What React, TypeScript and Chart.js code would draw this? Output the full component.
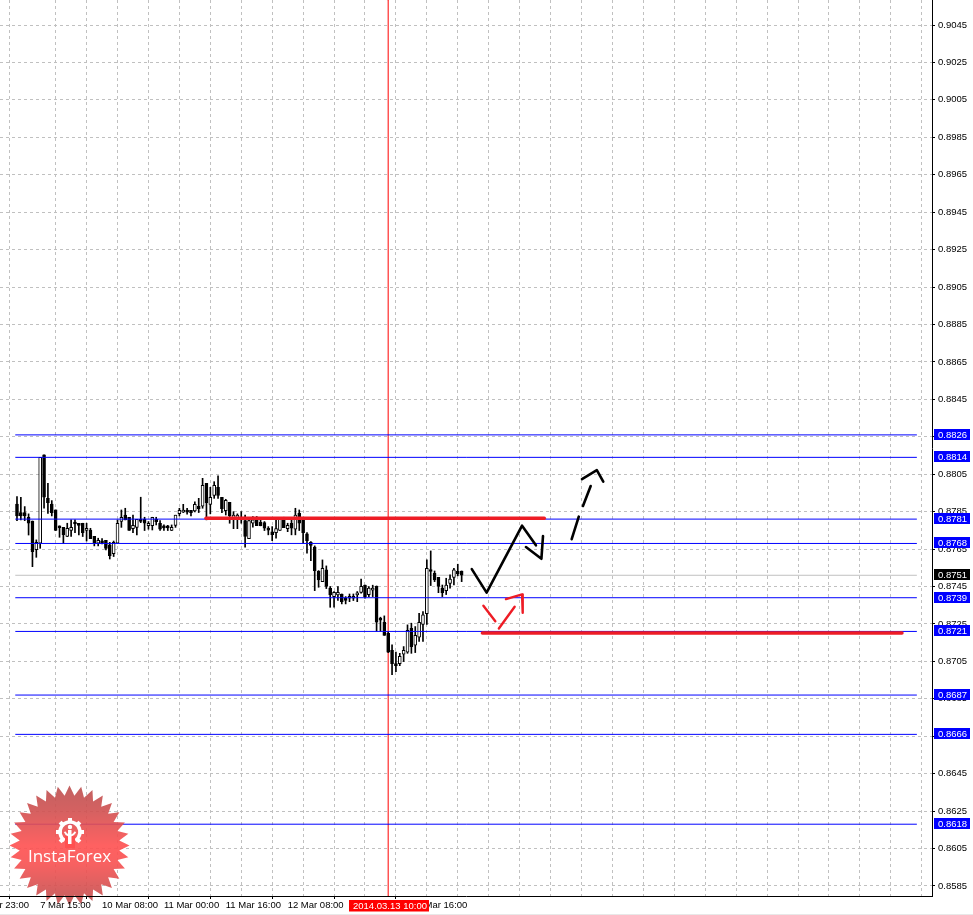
import React, { useEffect, useRef } from "react";
import { Chart, registerables } from "chart.js";

Chart.register(...registerables);

const opens = [0.87891,0.87845,0.87845,0.87820,0.87800,0.87647,0.87681,0.88153,0.87921,0.87891,0.87859,0.87766,0.87766,0.87717,0.87749,0.87788,0.87781,0.87788,0.87749,0.87752,0.87718,0.87681,0.87684,0.87697,0.87672,0.87626,0.87681,0.87798,0.87831,0.87820,0.87759,0.87766,0.87802,0.87809,0.87775,0.87775,0.87809,0.87788,0.87766,0.87766,0.87749,0.87777,0.87839,0.87847,0.87848,0.87857,0.87854,0.87879,0.87879,0.88001,0.87889,0.87937,0.87980,0.87927,0.87855,0.87900,0.87816,0.87816,0.87820,0.87802,0.87706,0.87788,0.87806,0.87793,0.87791,0.87754,0.87742,0.87738,0.87749,0.87820,0.87759,0.87788,0.87756,0.87841,0.87809,0.87731,0.87686,0.87660,0.87531,0.87476,0.87539,0.87441,0.87396,0.87405,0.87409,0.87380,0.87387,0.87387,0.87405,0.87419,0.87457,0.87407,0.87430,0.87451,0.87273,0.87259,0.87200,0.87109,0.87031,0.87038,0.87088,0.87099,0.87227,0.87136,0.87179,0.87248,0.87305,0.87537,0.87521,0.87499,0.87442,0.87428,0.87466,0.87498,0.87531,0.87533];
const highs = [0.87930,0.87927,0.87877,0.87838,0.87800,0.87699,0.88140,0.88153,0.88001,0.87909,0.87859,0.87774,0.87766,0.87788,0.87806,0.87806,0.87788,0.87788,0.87788,0.87761,0.87718,0.87708,0.87706,0.87697,0.87686,0.87693,0.87806,0.87859,0.87868,0.87820,0.87832,0.87809,0.87927,0.87820,0.87797,0.87820,0.87820,0.87802,0.87779,0.87777,0.87779,0.87831,0.87868,0.87889,0.87868,0.87857,0.87902,0.87921,0.88028,0.88001,0.87980,0.88010,0.88041,0.87927,0.87916,0.87900,0.87850,0.87838,0.87850,0.87832,0.87815,0.87824,0.87824,0.87806,0.87797,0.87770,0.87770,0.87806,0.87820,0.87820,0.87788,0.87809,0.87868,0.87859,0.87809,0.87738,0.87690,0.87667,0.87535,0.87592,0.87560,0.87450,0.87423,0.87450,0.87410,0.87396,0.87410,0.87410,0.87423,0.87490,0.87458,0.87450,0.87457,0.87453,0.87286,0.87293,0.87209,0.87138,0.87099,0.87093,0.87129,0.87245,0.87254,0.87236,0.87307,0.87316,0.87592,0.87640,0.87533,0.87499,0.87458,0.87494,0.87512,0.87547,0.87569,0.87533];
const lows = [0.87802,0.87806,0.87802,0.87725,0.87556,0.87606,0.87654,0.87868,0.87841,0.87827,0.87749,0.87713,0.87681,0.87717,0.87717,0.87738,0.87725,0.87717,0.87693,0.87706,0.87667,0.87667,0.87677,0.87645,0.87597,0.87610,0.87681,0.87766,0.87806,0.87749,0.87738,0.87725,0.87791,0.87749,0.87756,0.87752,0.87779,0.87749,0.87749,0.87749,0.87749,0.87766,0.87827,0.87845,0.87836,0.87827,0.87848,0.87845,0.87868,0.87806,0.87838,0.87921,0.87921,0.87845,0.87832,0.87788,0.87759,0.87759,0.87788,0.87660,0.87706,0.87767,0.87775,0.87774,0.87749,0.87726,0.87695,0.87708,0.87749,0.87765,0.87743,0.87726,0.87726,0.87749,0.87681,0.87628,0.87588,0.87428,0.87446,0.87476,0.87439,0.87339,0.87339,0.87375,0.87357,0.87357,0.87369,0.87375,0.87369,0.87414,0.87387,0.87396,0.87396,0.87211,0.87211,0.87189,0.87097,0.86979,0.86995,0.87027,0.87049,0.87093,0.87093,0.87097,0.87156,0.87156,0.87248,0.87455,0.87476,0.87417,0.87396,0.87407,0.87441,0.87458,0.87507,0.87476];
const closes = [0.87827,0.87827,0.87827,0.87788,0.87636,0.87686,0.88140,0.87927,0.87898,0.87845,0.87749,0.87763,0.87727,0.87761,0.87766,0.87784,0.87777,0.87738,0.87761,0.87706,0.87681,0.87697,0.87683,0.87654,0.87615,0.87686,0.87788,0.87820,0.87806,0.87749,0.87777,0.87809,0.87798,0.87788,0.87788,0.87820,0.87797,0.87756,0.87763,0.87763,0.87766,0.87831,0.87857,0.87857,0.87847,0.87845,0.87889,0.87866,0.87991,0.87898,0.87927,0.87991,0.87937,0.87866,0.87911,0.87827,0.87831,0.87831,0.87806,0.87717,0.87802,0.87806,0.87775,0.87775,0.87761,0.87751,0.87727,0.87759,0.87820,0.87765,0.87777,0.87761,0.87831,0.87788,0.87738,0.87695,0.87669,0.87535,0.87485,0.87547,0.87450,0.87405,0.87419,0.87419,0.87369,0.87376,0.87396,0.87396,0.87409,0.87451,0.87396,0.87441,0.87441,0.87259,0.87270,0.87189,0.87099,0.87038,0.87027,0.87077,0.87109,0.87216,0.87129,0.87189,0.87259,0.87298,0.87547,0.87530,0.87485,0.87450,0.87417,0.87457,0.87489,0.87539,0.87517,0.87510];

const priceTicks = [0.9045,0.9025,0.9005,0.8985,0.8965,0.8945,0.8925,0.8905,0.8885,0.8865,0.8845,0.8825,0.8805,0.8785,0.8765,0.8745,0.8725,0.8705,0.8685,0.8665,0.8645,0.8625,0.8605,0.8585];
const levelLines = [0.8826,0.8814,0.8781,0.8768,0.8739,0.8721,0.8687,0.8666,0.8618];
const lastPrice = 0.8751;

const labelBars = [-10,6,22,38,54,70,86,102];
const labelTexts = ["6 Mar 23:00","7 Mar 15:00","10 Mar 08:00","11 Mar 00:00","11 Mar 16:00","12 Mar 08:00","13 Mar 00:00","13 Mar 16:00"];
const crosshairBar = 96;
const crosshairLabel = "2014.03.13 10:00";
const brandName = "InstaForex";

// Hand-drawn annotations as [bar index, price]
const redLevels = [
  [[48.875,0.87814],[136.375,0.87814]],
  [[120.375,0.87202],[228.875,0.87202]],
];
const blackStrokes = [
  [[117.625,0.87543],[121.458,0.87417],[130.625,0.87775],[134.208,0.8767]],
  [[131.625,0.87661],[135.625,0.87598],[136.04,0.8772]],
  [[143.458,0.87703],[145.29,0.87823]],
  [[146.375,0.8788],[148.375,0.87987]],
  [[146.125,0.88024],[149.958,0.88072],[151.625,0.8801]],
];
const redStrokes = [
  [[120.625,0.87347],[123.708,0.87264]],
  [[124.625,0.87226],[128.708,0.87342]],
  [[126.458,0.87383],[130.625,0.87408],[130.79,0.8731]],
];

const X_MIN = -0.375, X_MAX = 232.625;
const Y_MAX = 0.905836, Y_MIN = 0.857964;
const TICK_FONT = { family: "Liberation Sans", size: 9.5 };
const fontStr = "9.5px 'Liberation Sans'";

function toXY(points: number[][]) {
  return points.map(([x, y]) => ({ x, y }));
}

function lineDs(points: number[][], color: string, width: number, order: number) {
  return {
    type: "line" as const,
    data: toXY(points),
    borderColor: color,
    borderWidth: width,
    pointRadius: 0,
    tension: 0,
    order,
    borderCapStyle: "round" as const,
    borderJoinStyle: "round" as const,
  };
}

const overlayPlugin = {
  id: "overlay",
  afterDatasetsDraw(chart: any) {
    const ctx = chart.ctx;
    const cx = 69.5, cy = 845.5, R = 60, r = 50, n = 32;
    ctx.save();
    const g = ctx.createLinearGradient(0, cy - R, 0, cy + R);
    g.addColorStop(0, "#bc5050");
    g.addColorStop(0.2, "#cf5050");
    g.addColorStop(0.5, "#ff5050");
    g.addColorStop(0.65, "#f85050");
    g.addColorStop(1, "#bc5050");
    ctx.globalAlpha = 0.9;
    ctx.fillStyle = g;
    ctx.beginPath();
    for (let i = 0; i < n * 2; i++) {
      const rad = i % 2 === 0 ? R : r;
      const a = (i * Math.PI) / n - Math.PI / 2;
      const px = cx + rad * Math.cos(a), py = cy + rad * Math.sin(a);
      if (i === 0) ctx.moveTo(px, py); else ctx.lineTo(px, py);
    }
    ctx.closePath();
    ctx.fill();
    ctx.globalAlpha = 1;
    // gear
    const gx = 70, gy = 832;
    ctx.strokeStyle = "#fff";
    ctx.fillStyle = "#fff";
    ctx.lineWidth = 3.5;
    ctx.beginPath();
    ctx.arc(gx, gy, 10, Math.PI * 0.68, Math.PI * 0.32);
    ctx.stroke();
    for (let i = 0; i < 8; i++) {
      const a = (i * Math.PI) / 4 - Math.PI / 2 + Math.PI / 8 - Math.PI / 8;
      if (Math.abs(a - Math.PI / 2) < 0.1) continue;
      ctx.save();
      ctx.translate(gx, gy);
      ctx.rotate(a);
      ctx.fillRect(10, -2, 4, 4);
      ctx.restore();
    }
    ctx.fillStyle = "#ff5050";
    ctx.fillRect(gx - 5, gy + 4, 10, 12);
    ctx.fillStyle = "#fff";
    ctx.beginPath();
    ctx.arc(gx, gy - 5, 2.2, 0, Math.PI * 2);
    ctx.fill();
    ctx.fillRect(gx - 2, gy - 2, 3.5, 14);
    ctx.lineWidth = 2;
    ctx.beginPath();
    ctx.arc(gx, gy - 2, 5.5, 0.1 * Math.PI, 0.9 * Math.PI);
    ctx.stroke();
    ctx.font = "17px 'Open Sans'";
    ctx.textAlign = "center";
    ctx.textBaseline = "middle";
    ctx.fillText(brandName, 69.5, 857.5);
    ctx.restore();
  },
  afterDraw(chart: any) {
    const ctx = chart.ctx;
    const y = chart.scales.y;
    const x = chart.scales.x;
    ctx.save();
    ctx.font = fontStr;
    ctx.textBaseline = "middle";
    ctx.textAlign = "left";
    const box = (v: number, color: string) => {
      const py = Math.round(y.getPixelForValue(v));
      ctx.fillStyle = color;
      ctx.fillRect(934, py - 6, 36, 11);
      ctx.fillStyle = "#fff";
      ctx.fillText(v.toFixed(4), 938, py);
    };
    box(lastPrice, "#000");
    levelLines.forEach((v) => box(v, "#0000ff"));
    // crosshair time label
    const left = Math.round(x.getPixelForValue(86)) - 1;
    ctx.fillStyle = "#ff0000";
    ctx.fillRect(left, 900, 80, 11.5);
    ctx.fillStyle = "#fff";
    ctx.fillText(crosshairLabel, left + 4, 906);
    ctx.fillStyle = "#e8e8e8";
    ctx.fillRect(0, 914, 973, 1);
    ctx.restore();
  },
};

export default function App() {
  const ref = useRef<HTMLCanvasElement | null>(null);
  useEffect(() => {
    const candles = opens.map((o, i) => ({ x: i, o, c: closes[i], h: highs[i], l: lows[i] }));
    const datasets: any[] = [
      {
        type: "bar",
        data: candles.map((d) => ({ x: d.x, y: [d.l, d.h] })),
        backgroundColor: "#000",
        barThickness: 1,
        grouped: false,
        order: 20,
      },
      {
        type: "bar",
        data: candles.map((d) => ({ x: d.x, y: [d.o, d.c] })),
        backgroundColor: candles.map((d) => (d.c >= d.o ? "#fff" : "#000")),
        borderColor: "#000",
        borderWidth: 1,
        borderSkipped: false,
        barThickness: 3,
        minBarLength: 2,
        grouped: false,
        order: 19,
      },
      lineDs([[X_MIN, lastPrice],[X_MAX, lastPrice]], "#c0c0c0", 1, 30),
      lineDs([[crosshairBar, Y_MIN],[crosshairBar, Y_MAX]], "#ff0000", 1, 25),
      ...levelLines.map((v) => lineDs([[X_MIN, v],[X_MAX, v]], "#0000ff", 1, 10)),
      ...redLevels.map((p) => lineDs(p, "#ee1c25", 3.5, 5)),
      ...blackStrokes.map((p) => lineDs(p, "#000", 2.6, 2)),
      ...redStrokes.map((p) => lineDs(p, "#ee1c25", 2.4, 1)),
    ];
    const labelMap = new Map(labelBars.map((b, i) => [b, labelTexts[i]]));
    const gridBars = [-10];
    for (let b = 6; b <= 230; b += 8) gridBars.push(b);
    const chart = new Chart(ref.current as HTMLCanvasElement, {
      type: "bar",
      data: { datasets },
      options: {
        responsive: false,
        animation: false,
        events: [],
        layout: { padding: 0 },
        plugins: { legend: { display: false }, tooltip: { enabled: false }, title: { display: false } },
        scales: {
          x: {
            type: "linear",
            min: X_MIN,
            max: X_MAX,
            afterBuildTicks: (s: any) => { s.ticks = gridBars.map((value) => ({ value })); },
            afterFit: (s: any) => {
              s.height = 19;
              s.paddingLeft = 0; s.paddingRight = 0; s.paddingTop = 0; s.paddingBottom = 0;
            },
            grid: {
              color: "#c0c0c0",
              lineWidth: 1,
              tickLength: 3,
              tickColor: (c: any) => (labelMap.has(c.tick?.value) ? "#000" : "rgba(0,0,0,0)"),
            },
            border: { color: "#000", width: 1, dash: [3, 3], z: 1 },
            ticks: {
              autoSkip: false,
              maxRotation: 0,
              minRotation: 0,
              align: "start",
              padding: 1,
              z: 1,
              color: "#000",
              font: TICK_FONT,
              callback: (v: any) => labelMap.get(v) ?? "",
            },
          },
          y: {
            type: "linear",
            position: "right",
            min: Y_MIN,
            max: Y_MAX,
            afterBuildTicks: (s: any) => { s.ticks = priceTicks.map((value) => ({ value })); },
            afterFit: (s: any) => {
              s.width = 41;
              s.paddingLeft = 0; s.paddingRight = 0; s.paddingTop = 0; s.paddingBottom = 0;
            },
            grid: { color: "#c0c0c0", lineWidth: 1, tickLength: 3, tickColor: "#000" },
            border: { color: "#000", width: 1, dash: [3, 3] },
            ticks: {
              autoSkip: false,
              padding: 3,
              crossAlign: "near",
              color: "#000",
              font: TICK_FONT,
              callback: (v: any) => Number(v).toFixed(4),
            },
          },
        },
      } as any,
      plugins: [overlayPlugin],
    });
    return () => chart.destroy();
  }, []);
  return (
    <canvas
      ref={ref}
      width={973}
      height={915}
      style={{ position: "absolute", left: 0, top: 0, width: 973, height: 915, display: "block", background: "#fff" }}
    />
  );
}
